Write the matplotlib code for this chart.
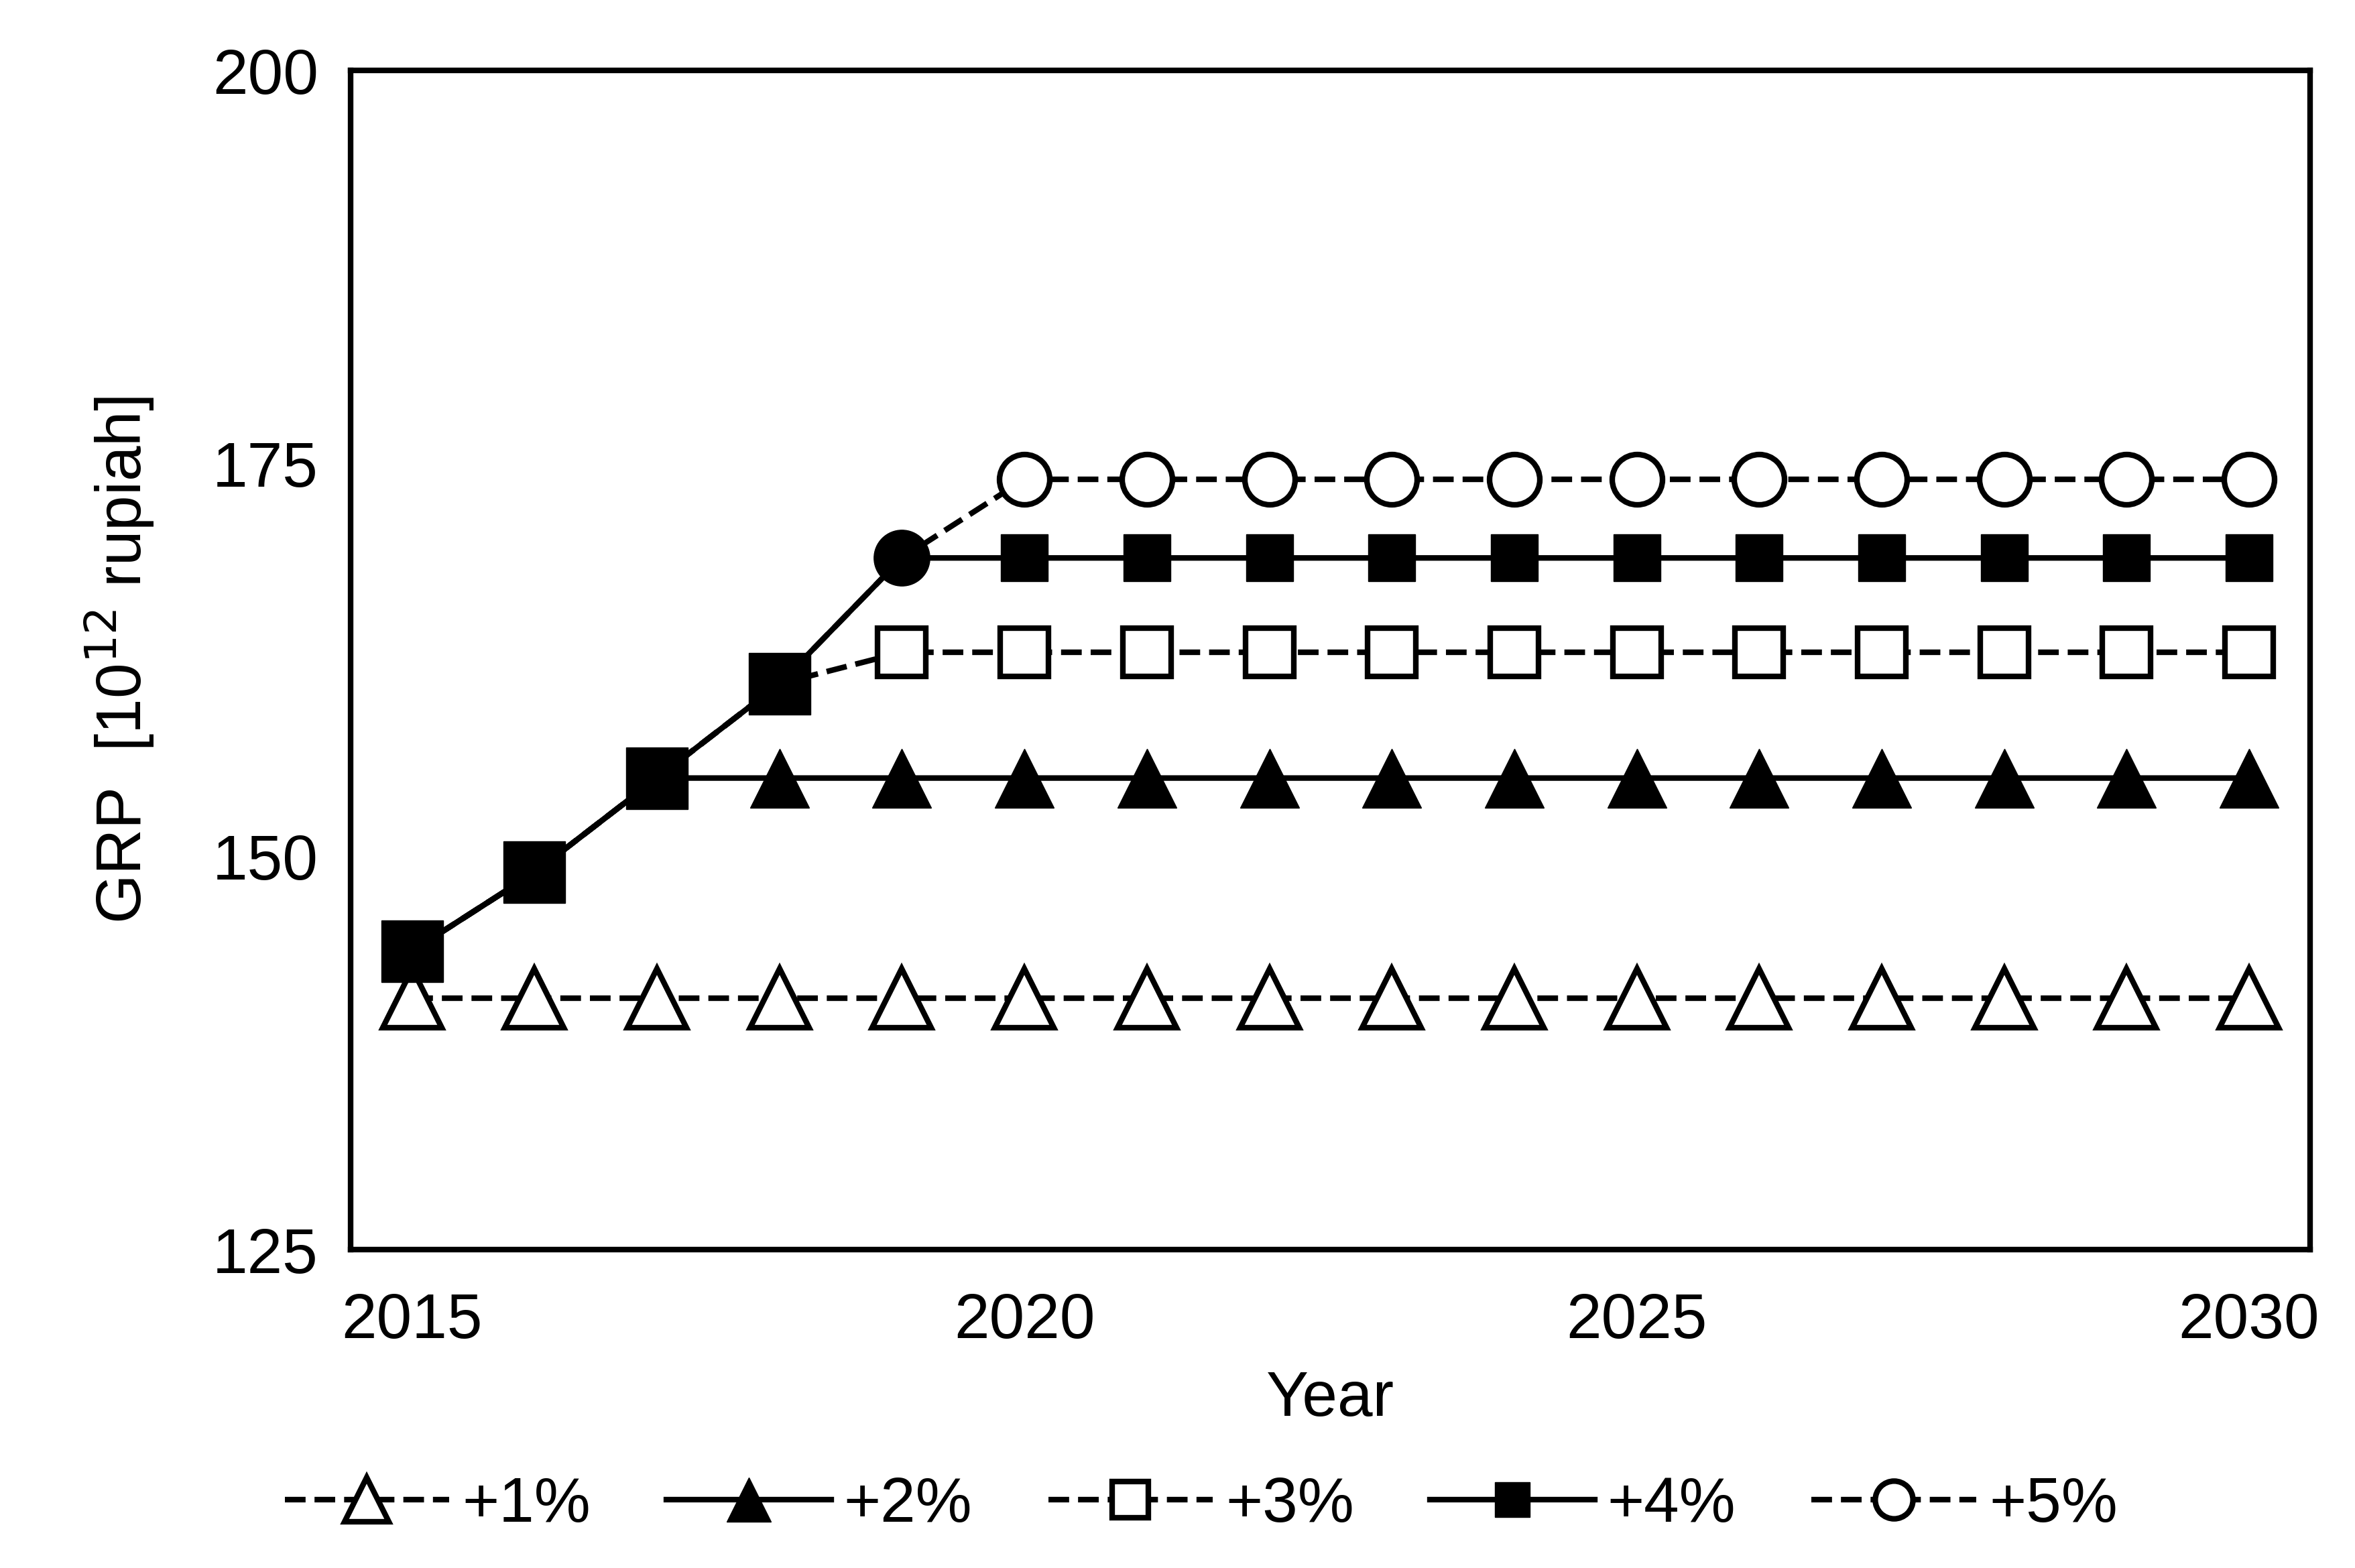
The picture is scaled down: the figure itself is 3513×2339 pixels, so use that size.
import matplotlib.pyplot as plt

plt.rcParams['font.family'] = ['Liberation Sans', 'DejaVu Sans']

years = list(range(2015, 2031))
hist_years = [2015, 2016, 2017, 2018]
hist_vals = [144, 149, 155, 161]
p1 = [141] * 16
p2 = [144, 149, 155] + [155] * 13
p3 = [144, 149, 155, 161] + [163] * 12
p4 = [144, 149, 155, 161] + [169] * 12
p5 = [144, 149, 155, 161, 169] + [174] * 11

fig = plt.figure(figsize=(35.13, 23.39), dpi=100)
ax = fig.add_axes([0.149, 0.203, 0.832, 0.752])
lw = 6
fs = 68

ax.plot(years, p1, 'k--', lw=lw, marker='^', ms=64, mfc='white', mew=lw, label='+1%')
ax.plot(years, p5, 'k--', lw=lw, marker='o', ms=54, mfc='white', mew=lw, markevery=range(5, 16), label='+5%')
ax.plot(years, p3, 'k--', lw=lw, marker='s', ms=52, mfc='white', mew=lw, markevery=range(4, 16), label='+3%')
ax.plot(years, p4, 'k-', lw=lw, marker='s', ms=50, mfc='black', markevery=range(5, 16), label='+4%')
ax.plot(years, p2, 'k-', lw=lw, marker='^', ms=64, mfc='black', markevery=range(3, 16), label='+2%')
ax.plot(hist_years, hist_vals, 'ks', ms=66)
ax.plot([2019], [169], 'ko', ms=60)

ax.set_xlim(2014.5, 2030.5)
ax.set_ylim(125, 200)
ax.set_xticks([2015, 2020, 2025, 2030])
ax.set_yticks([125, 150, 175, 200])
ax.tick_params(labelsize=fs, length=0)
ax.tick_params(axis='x', pad=45)
ax.tick_params(axis='y', pad=35)
for s in ax.spines.values():
    s.set_linewidth(6)
ax.set_xlabel('Year', fontsize=fs, labelpad=20)
ax.set_ylabel('GRP  [10$^{12}$ rupiah]', fontsize=fs, labelpad=60)

h, l = ax.get_legend_handles_labels()
order = [0, 4, 2, 3, 1]
leg = fig.legend([h[i] for i in order], [l[i] for i in order], loc='center',
                 bbox_to_anchor=(0.51, 0.04), ncol=5, frameon=False, fontsize=fs,
                 handlelength=2.6, columnspacing=1.2, handletextpad=0.2, markerscale=0.75)

fig.savefig('out.png', dpi=100)
